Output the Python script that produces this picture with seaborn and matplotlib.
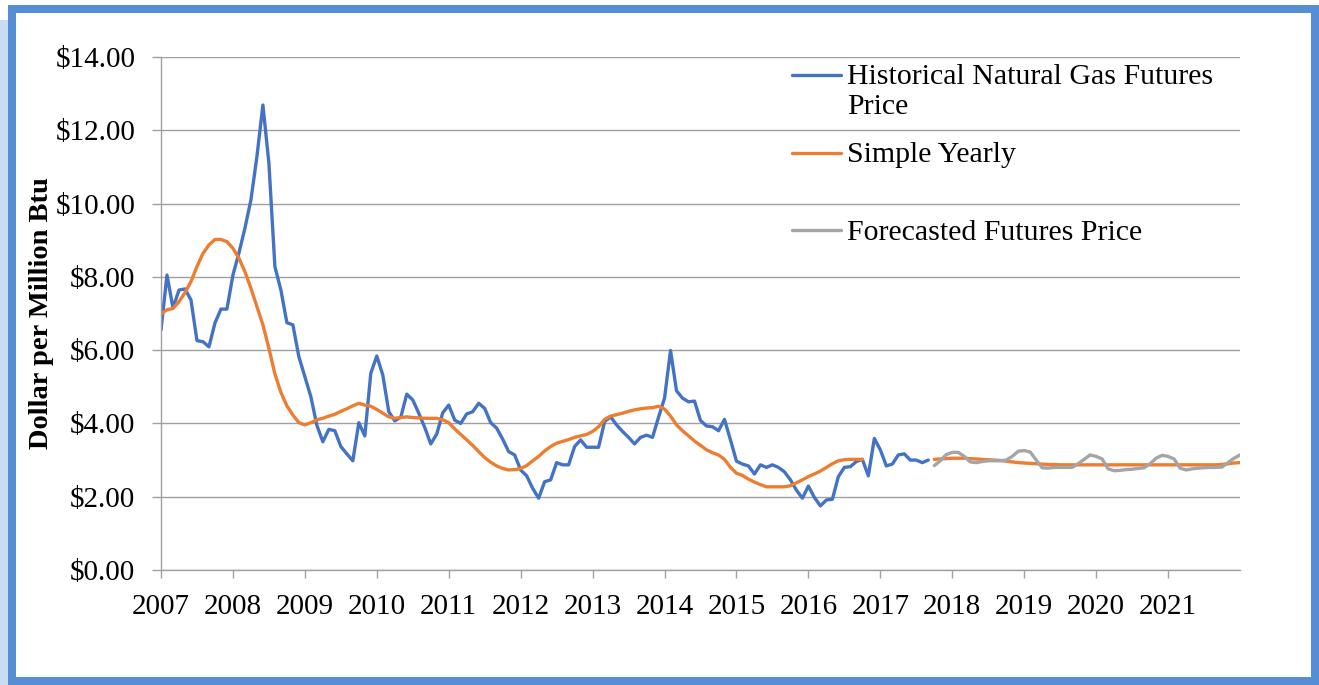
import numpy as np
import pandas as pd
import matplotlib
matplotlib.use("Agg")
import matplotlib.pyplot as plt
import seaborn as sns
from matplotlib.legend_handler import HandlerLine2D
from matplotlib.patches import Rectangle
from matplotlib.ticker import FuncFormatter, FixedLocator

# ---------------- data (monthly, Jan 2007 = month 0) ----------------
year_labels = [str(y) for y in range(2007, 2022)]

historical_price = [
    6.55, 8.05, 7.15, 7.64, 7.67, 7.37, 6.26, 6.23, 6.09, 6.74, 7.12, 7.12,
    8.05, 8.65, 9.33, 10.10, 11.28, 12.69, 11.10, 8.28, 7.64, 6.75, 6.69, 5.82,
    5.28, 4.73, 3.95, 3.50, 3.84, 3.80, 3.37, 3.17, 2.98, 4.02, 3.66, 5.37,
    5.84, 5.32, 4.32, 4.07, 4.17, 4.80, 4.64, 4.28, 3.89, 3.44, 3.71, 4.29,
    4.50, 4.09, 4.00, 4.26, 4.32, 4.55, 4.41, 4.02, 3.87, 3.57, 3.23, 3.14,
    2.73, 2.57, 2.23, 1.96, 2.41, 2.46, 2.93, 2.87, 2.87, 3.37, 3.55, 3.35,
    3.35, 3.35, 4.05, 4.18, 3.96, 3.78, 3.62, 3.44, 3.62, 3.68, 3.62, 4.17,
    4.69, 5.99, 4.89, 4.69, 4.59, 4.61, 4.08, 3.93, 3.91, 3.80, 4.11, 3.55,
    2.97, 2.89, 2.84, 2.62, 2.87, 2.80, 2.87, 2.80, 2.68, 2.46, 2.18, 1.96,
    2.29, 1.98, 1.75, 1.91, 1.93, 2.55, 2.80, 2.82, 2.96, 3.02, 2.57, 3.59,
    3.28, 2.84, 2.89, 3.14, 3.17, 3.00, 3.00, 2.93, 3.00,
]
historical_start = 0

simple_yearly_hist = [
    6.99, 7.10, 7.14, 7.32, 7.57, 7.87, 8.28, 8.64, 8.87, 9.02, 9.02, 8.96,
    8.78, 8.51, 8.14, 7.69, 7.19, 6.69, 6.05, 5.35, 4.85, 4.48, 4.23, 4.02,
    3.96, 4.02, 4.10, 4.14, 4.20, 4.25, 4.33, 4.40, 4.48, 4.55, 4.50, 4.47,
    4.38, 4.28, 4.18, 4.14, 4.16, 4.18, 4.16, 4.15, 4.14, 4.14, 4.14, 4.10,
    4.02, 3.85, 3.70, 3.55, 3.40, 3.23, 3.07, 2.94, 2.84, 2.77, 2.73, 2.74,
    2.77, 2.85, 2.98, 3.10, 3.25, 3.37, 3.46, 3.51, 3.56, 3.62, 3.66, 3.70,
    3.78, 3.91, 4.11, 4.20, 4.24, 4.28, 4.33, 4.37, 4.40, 4.42, 4.43, 4.47,
    4.39, 4.20, 3.96, 3.80, 3.66, 3.52, 3.40, 3.28, 3.20, 3.14, 3.02, 2.80,
    2.64, 2.58, 2.48, 2.40, 2.33, 2.27, 2.27, 2.27, 2.27, 2.30, 2.38, 2.46,
    2.55, 2.62, 2.70, 2.80, 2.90, 2.98, 3.01, 3.02, 3.02, 3.02,
]
simple_yearly_hist_start = 0

simple_yearly_fcst = [
    3.02, 3.03, 3.04, 3.05, 3.05, 3.05, 3.04, 3.03, 3.02, 3.01, 3.00, 2.99,
    2.97, 2.95, 2.93, 2.92, 2.91, 2.90, 2.89, 2.88, 2.88, 2.87, 2.87, 2.87,
    2.87, 2.87, 2.87, 2.87, 2.87, 2.87, 2.87, 2.87, 2.87, 2.87, 2.87, 2.87,
    2.87, 2.87, 2.87, 2.87, 2.87, 2.87, 2.87, 2.87, 2.87, 2.87, 2.87, 2.87,
    2.88, 2.90, 2.92, 2.93,
]
simple_yearly_fcst_start = 129

forecast_price = [
    2.85, 2.98, 3.15, 3.21, 3.21, 3.10, 2.95, 2.93, 2.96, 2.98, 2.98, 2.98,
    3.00, 3.10, 3.24, 3.26, 3.22, 3.00, 2.79, 2.78, 2.80, 2.80, 2.80, 2.80,
    2.90, 3.02, 3.14, 3.10, 3.03, 2.76, 2.71, 2.72, 2.74, 2.75, 2.77, 2.79,
    2.90, 3.05, 3.13, 3.10, 3.03, 2.78, 2.73, 2.76, 2.78, 2.79, 2.80, 2.80,
    2.81, 2.93, 3.05, 3.14,
]
forecast_start = 129

legend_labels = ["Historical Natural Gas Futures\nPrice", "Simple Yearly\n ",
                 "Forecasted Futures Price\n "]

# ---------------- styling ----------------
BLUE = "#4472C4"
ORANGE = "#ED7D31"
GREY = "#A5A5A5"
GRID = "#A0A0A0"
FRAME = "#558ED5"

sns.set_theme(style="white")
plt.rcParams["font.family"] = ["Liberation Serif", "DejaVu Serif"]

W, H = 1319, 685
fig = plt.figure(figsize=(W / 100, H / 100), dpi=100)
fig.patch.set_facecolor("white")

# outer decorative frame (behind the axes)
fig.patches.append(Rectangle((0, 0), 8 / W, 665 / H, transform=fig.transFigure,
                             facecolor="#CADCF2", edgecolor="none", zorder=-2))
fig.patches.append(Rectangle((12 / W, 4 / H), (1315 - 12) / W, (676.5 - 4) / H,
                             transform=fig.transFigure, facecolor="none",
                             edgecolor=FRAME, linewidth=8 * 0.72, zorder=-1))

ax = fig.add_axes([161 / W, 115 / H, 1079 / W, 513 / H])
ax.set_facecolor("none")


def frame(vals, start):
    return pd.DataFrame({"month": np.arange(len(vals)) + start, "price": vals})


lw = 2.4
sns.lineplot(data=frame(historical_price, historical_start), x="month", y="price",
             ax=ax, color=BLUE, linewidth=lw, label="hist", legend=False)
sns.lineplot(data=frame(simple_yearly_hist, simple_yearly_hist_start), x="month", y="price",
             ax=ax, color=ORANGE, linewidth=lw, label="simple", legend=False)
sns.lineplot(data=frame(simple_yearly_fcst, simple_yearly_fcst_start), x="month", y="price",
             ax=ax, color=ORANGE, linewidth=lw, legend=False)
sns.lineplot(data=frame(forecast_price, forecast_start), x="month", y="price",
             ax=ax, color=GREY, linewidth=lw, label="fcst", legend=False)

ax.set_xlim(0, 180)
ax.set_ylim(0, 14)
ax.set_yticks(np.arange(0, 15, 2))
ax.yaxis.set_major_formatter(FuncFormatter(lambda v, p: f"${v:.2f}"))
ax.xaxis.set_major_locator(FixedLocator([12 * i for i in range(len(year_labels))]))
ax.set_xticklabels(year_labels)

ax.grid(axis="y", color=GRID, linewidth=1.0)
ax.grid(axis="x", visible=False)
ax.set_axisbelow(True)
for s in ["top", "right"]:
    ax.spines[s].set_visible(False)
for s in ["left", "bottom"]:
    ax.spines[s].set_color(GRID)
    ax.spines[s].set_linewidth(1.0)

ax.tick_params(axis="y", which="major", direction="out", length=6.5, width=1.0,
               color=GRID, left=True, pad=12, labelsize=21, labelcolor="#000000")
ax.tick_params(axis="x", which="major", direction="out", length=6, width=1.0,
               color=GRID, bottom=True, pad=11, labelsize=21, labelcolor="#000000")

ax.set_xlabel("")
ax.set_ylabel("Dollar per Million Btu", fontsize=20.5, fontweight="bold",
              color="#000000", labelpad=1)


class TopHandler(HandlerLine2D):
    def __init__(self, shift, **kw):
        super().__init__(**kw)
        self.shift = shift

    def create_artists(self, legend, orig_handle, xdescent, ydescent, width,
                       height, fontsize, trans):
        arts = super().create_artists(legend, orig_handle, xdescent, ydescent,
                                      width, height, fontsize, trans)
        for a in arts:
            a.set_ydata(np.asarray(a.get_ydata()) + self.shift)
        return arts


handles = ax.get_lines()
lines_for_legend = [handles[0], handles[1], handles[3]]
hmap = {h: TopHandler(shift=12) for h in lines_for_legend}
leg = ax.legend(lines_for_legend, legend_labels, loc="upper left",
                bbox_to_anchor=(792 / W, (H - 64) / H), bbox_transform=fig.transFigure,
                frameon=False, fontsize=21.5, handlelength=1.65, handletextpad=0.2,
                labelspacing=0.73, borderpad=0, borderaxespad=0, handler_map=hmap)
for t in leg.get_texts():
    t.set_color("#000000")

fig.savefig("out.png", dpi=100, facecolor="white")
